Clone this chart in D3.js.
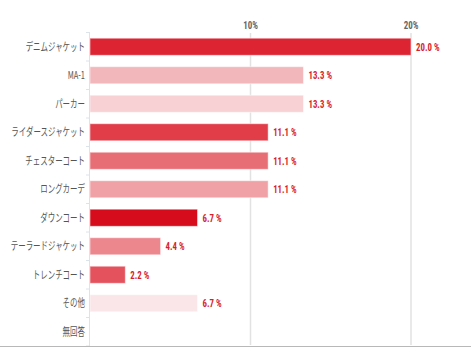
<!DOCTYPE html>
<html><head><meta charset="utf-8">
<script src="https://cdn.jsdelivr.net/npm/d3@7"></script>
<style>
body{margin:0;background:#fff;}
svg{display:block;}
</style></head>
<body>
<script>
const categories = ["デニムジャケット","MA-1","パーカー","ライダースジャケット","チェスターコート","ロングカーデ","ダウンコート","テーラードジャケット","トレンチコート","その他","無回答"];
const values = [20.0, 13.3, 13.3, 11.1, 11.1, 11.1, 6.7, 4.4, 2.2, 6.7, null];
const barColors = ["#dd2433","#f2b7ba","#f7d1d4","#e03d49","#e86e76","#f0a1a6","#d60b1b","#ed878e","#e4535d","#fae6e8","#ffffff"];
const tickValues = [10, 20];
const tickLabels = ["10%","20%"];

const W = 471, H = 359;
const svg = d3.select("body").append("svg").attr("width", W).attr("height", H);
const narrow = "'Liberation Sans Narrow','Roboto Condensed','Liberation Sans',sans-serif";

const x = d3.scaleLinear().domain([0, 20]).range([90, 411]);
const y = d3.scaleBand().domain(categories).range([32.5, 346]).paddingInner(0.4).paddingOuter(0.2);

// gridlines
svg.append("g").selectAll("line").data(tickValues).join("line")
  .attr("x1", d => x(d)).attr("x2", d => x(d))
  .attr("y1", 33).attr("y2", 345)
  .attr("stroke", "#e2e2e2").attr("stroke-width", 1.5);

// top tick labels
svg.append("g").selectAll("text").data(tickValues).join("text")
  .attr("transform", d => `translate(${x(d)},29) scale(0.85,1)`)
  .attr("text-anchor", "middle")
  .attr("font-family", narrow)
  .attr("font-weight", "bold")
  .attr("font-size", 10.5)
  .attr("fill", "#666")
  .text((d, i) => tickLabels[i]);

// bars
const data = categories.map((c, i) => ({c, v: values[i], col: barColors[i]}));
svg.append("g").selectAll("rect").data(data.filter(d => d.v != null)).join("rect")
  .attr("x", x(0))
  .attr("y", d => y(d.c))
  .attr("width", d => x(d.v) - x(0))
  .attr("height", y.bandwidth())
  .attr("fill", d => d.col)
  .attr("stroke", "rgba(255,255,255,0.5)")
  .attr("stroke-width", 1);

// value labels
svg.append("g").selectAll("text").data(data.filter(d => d.v != null)).join("text")
  .attr("transform", d => `translate(${x(d.v) + 5},${y(d.c) + y.bandwidth() / 2}) scale(0.8,1)`)
  .attr("dy", "0.35em")
  .attr("font-family", narrow)
  .attr("font-weight", "bold")
  .attr("font-size", 11)
  .attr("fill", "#d81e2c")
  .text(d => d.v.toFixed(1) + " %");

// left axis line
svg.append("line").attr("x1", 89.5).attr("x2", 89.5).attr("y1", 32).attr("y2", 346)
  .attr("stroke", "#dde3ea").attr("stroke-width", 1);
// band boundary ticks
const bounds = d3.range(categories.length + 1).map(i => 32.5 + i * (346 - 32.5) / categories.length);
svg.append("g").selectAll("line").data(bounds).join("line")
  .attr("x1", 86).attr("x2", 89.5)
  .attr("y1", d => d).attr("y2", d => d)
  .attr("stroke", "#dde3ea");

// category labels
svg.append("g").selectAll("text").data(categories).join("text")
  .attr("transform", d => `translate(85,${y(d) + y.bandwidth() / 2}) scale(0.68,1)`)
  .attr("dy", "0.35em")
  .attr("text-anchor", "end")
  .attr("font-family", "'Noto Sans CJK JP',sans-serif")
  .attr("font-size", 11)
  .attr("fill", "#555")
  .text(d => d);

// bottom line
svg.append("line").attr("x1", 0).attr("x2", W).attr("y1", 346.5).attr("y2", 346.5)
  .attr("stroke", "#b8b8b8").attr("stroke-width", 1);
</script>
</body></html>
